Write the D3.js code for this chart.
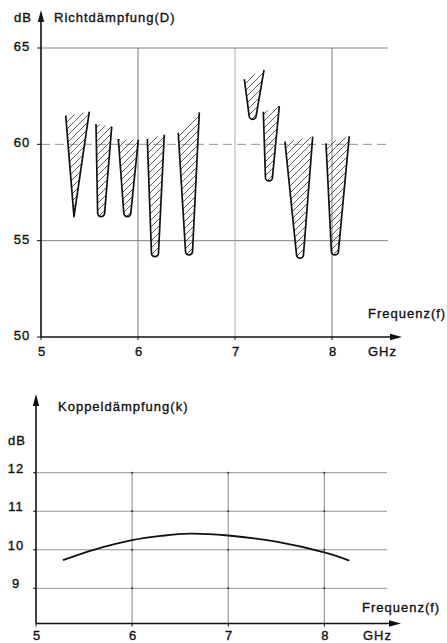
<!DOCTYPE html>
<html><head><meta charset="utf-8">
<script src="https://cdn.jsdelivr.net/npm/d3@7/dist/d3.min.js"></script>
<style>
html,body{margin:0;padding:0;background:#fff;}
text{font-family:"Liberation Sans",Arial,sans-serif;font-size:13px;letter-spacing:1px;fill:#111;stroke:#111;stroke-width:0.35px;}
</style></head><body>
<svg id="c" width="447" height="643"></svg>
<script>
// ---- Data: Richtdämpfung (D) – hatched ranges per frequency band ----
const wedgeTopLeftF  = [5.255, 5.567, 5.797, 6.096, 6.415, 7.096, 7.292, 7.515, 7.938];
const wedgeTopLeftD  = [61.49, 61.06, 60.28, 60.28, 60.60, 63.39, 61.69, 60.14, 60.05];
const wedgeTopRightF = [5.498, 5.729, 6.003, 6.271, 6.632, 7.299, 7.457, 7.801, 8.178];
const wedgeTopRightD = [61.70, 60.92, 60.23, 60.50, 61.66, 63.86, 61.99, 60.40, 60.43];
const wedgeMinF      = [5.340, 5.620, 5.890, 6.175, 6.526, 7.182, 7.350, 7.670, 8.030];
const wedgeMinD      = [56.25, 56.25, 56.25, 54.17, 54.26, 61.30, 58.10, 54.09, 54.26];
const wedgeTip       = ["point","round","round","round","round","round","round","round","round"];
const topYTicks = [65, 60, 55, 50];
const topXTicks = [5, 6, 7, 8];

// ---- Data: Koppeldämpfung (k) ----
const kFreq = [5.28, 5.6, 6.0, 6.3, 6.6, 7.0, 7.5, 8.0, 8.26];
const kDb   = [9.73, 10.0, 10.25, 10.36, 10.42, 10.37, 10.21, 9.93, 9.72];
const botYTicks = [12, 11, 10, 9];
const botXTicks = [5, 6, 7, 8];

const svg = d3.select("#c");
const defs = svg.append("defs");
const pat = defs.append("pattern").attr("id","hatch").attr("patternUnits","userSpaceOnUse")
  .attr("width",7).attr("height",7);
pat.append("path").attr("d","M-1,1 l2,-2 M0,7 l7,-7 M6,8 l2,-2")
  .attr("stroke","#333").attr("stroke-width",0.8);

function arrowX(g, x0, x1, y){
  g.append("line").attr("x1",x0).attr("x2",x1-6).attr("y1",y).attr("y2",y).attr("stroke","#111").attr("stroke-width",1.6);
  g.append("path").attr("d",`M${x1},${y} L${x1-12},${y-3.2} L${x1-12},${y+3.2} Z`).attr("fill","#111");
}
function arrowY(g, x, y0, y1){
  g.append("line").attr("x1",x).attr("x2",x).attr("y1",y0).attr("y2",y1+6).attr("stroke","#111").attr("stroke-width",1.6);
  g.append("path").attr("d",`M${x},${y1} L${x-3.2},${y1+12} L${x+3.2},${y1+12} Z`).attr("fill","#111");
}

// ================= TOP CHART =================
const xT = d3.scaleLinear().domain([5,8]).range([41,332]);
const yT = d3.scaleLinear().domain([50,65]).range([337,48]);
const gT = svg.append("g");
const gridRight = 388;
[65,55].forEach(v=>{
  gT.append("line").attr("x1",xT(5)).attr("x2",gridRight).attr("y1",yT(v)).attr("y2",yT(v))
    .attr("stroke","#666").attr("stroke-width",0.8);
});
gT.append("line").attr("x1",xT(5)).attr("x2",gridRight).attr("y1",yT(60)).attr("y2",yT(60))
  .attr("stroke","#777").attr("stroke-width",0.8).attr("stroke-dasharray","9,5");
[6,7,8].forEach(v=>{
  gT.append("line").attr("x1",xT(v)).attr("x2",xT(v)).attr("y1",yT(65)).attr("y2",yT(50))
    .attr("stroke", v===7 ? "#999" : "#555").attr("stroke-width",0.8);
});
topYTicks.forEach(v=>{
  gT.append("line").attr("x1",xT(5)-4).attr("x2",xT(5)).attr("y1",yT(v)).attr("y2",yT(v)).attr("stroke","#111").attr("stroke-width",1);
  gT.append("text").attr("x",22).attr("y",yT(v)+3).attr("text-anchor","middle").text(v);
});
topXTicks.forEach(v=>{
  gT.append("line").attr("x1",xT(v)).attr("x2",xT(v)).attr("y1",yT(50)).attr("y2",yT(50)+3).attr("stroke","#111").attr("stroke-width",1);
  gT.append("text").attr("x",xT(v)+1).attr("y",356).attr("text-anchor","middle").text(v);
});
arrowX(gT, xT(5), 402, yT(50));
arrowY(gT, xT(5), yT(50), 10);
gT.append("text").attr("x",14).attr("y",22).text("dB");
gT.append("text").attr("x",54).attr("y",22).text("Richtdämpfung(D)");
gT.append("text").attr("x",368).attr("y",318).text("Frequenz(f)");
gT.append("text").attr("x",368).attr("y",356).text("GHz");

const r = 3.5;
wedgeMinF.forEach((_,i)=>{
  const tl=[xT(wedgeTopLeftF[i]), yT(wedgeTopLeftD[i])];
  const tr=[xT(wedgeTopRightF[i]), yT(wedgeTopRightD[i])];
  const bx=xT(wedgeMinF[i]), by=yT(wedgeMinD[i]);
  let d;
  if(wedgeTip[i]==="point"){
    d=`M${tl[0]},${tl[1]} L${bx},${by} L${tr[0]},${tr[1]}`;
  } else {
    d=`M${tl[0]},${tl[1]} L${bx-r},${by-r} A${r},${r} 0 0 0 ${bx+r},${by-r} L${tr[0]},${tr[1]}`;
  }
  gT.append("path").attr("d",d+" Z").attr("fill","url(#hatch)").attr("stroke","none");
  gT.append("path").attr("d",d).attr("fill","none").attr("stroke","#111").attr("stroke-width",1.7)
    .attr("stroke-linejoin","round");
});

// ================= BOTTOM CHART =================
const xB = d3.scaleLinear().domain([5,8]).range([36,324.3]);
const yB = d3.scaleLinear().domain([9,12]).range([588.3,472.7]);
const gB = svg.append("g");
const axisYB = 623.5;
botYTicks.forEach(v=>{
  gB.append("line").attr("x1",xB(5)).attr("x2",387).attr("y1",yB(v)).attr("y2",yB(v))
    .attr("stroke","#777").attr("stroke-width",0.8);
  gB.append("line").attr("x1",xB(5)-3).attr("x2",xB(5)).attr("y1",yB(v)).attr("y2",yB(v)).attr("stroke","#111").attr("stroke-width",1);
  gB.append("text").attr("x",16).attr("y",yB(v)).attr("text-anchor","middle").text(v);
});
[6,7,8].forEach(v=>{
  gB.append("line").attr("x1",xB(v)).attr("x2",xB(v)).attr("y1",yB(12)).attr("y2",axisYB)
    .attr("stroke","#666").attr("stroke-width",0.8);
  botYTicks.forEach(w=>{
    gB.append("circle").attr("cx",xB(v)).attr("cy",yB(w)).attr("r",1).attr("fill","#333");
  });
});
botXTicks.forEach(v=>{
  gB.append("line").attr("x1",xB(v)).attr("x2",xB(v)).attr("y1",axisYB).attr("y2",axisYB+3).attr("stroke","#111").attr("stroke-width",1);
  gB.append("text").attr("x",xB(v)+1).attr("y",639.5).attr("text-anchor","middle").text(v);
});
arrowX(gB, xB(5), 401, axisYB);
arrowY(gB, xB(5), axisYB, 394);
gB.append("text").attr("x",58).attr("y",411).text("Koppeldämpfung(k)");
gB.append("text").attr("x",8).attr("y",445).text("dB");
gB.append("text").attr("x",362).attr("y",612).text("Frequenz(f)");
gB.append("text").attr("x",363).attr("y",639.5).text("GHz");

const line = d3.line().x(d=>xB(d[0])).y(d=>yB(d[1])).curve(d3.curveCatmullRom);
gB.append("path").datum(kFreq.map((f,i)=>[f,kDb[i]])).attr("d",line)
  .attr("fill","none").attr("stroke","#111").attr("stroke-width",1.8);
</script>
</body></html>
